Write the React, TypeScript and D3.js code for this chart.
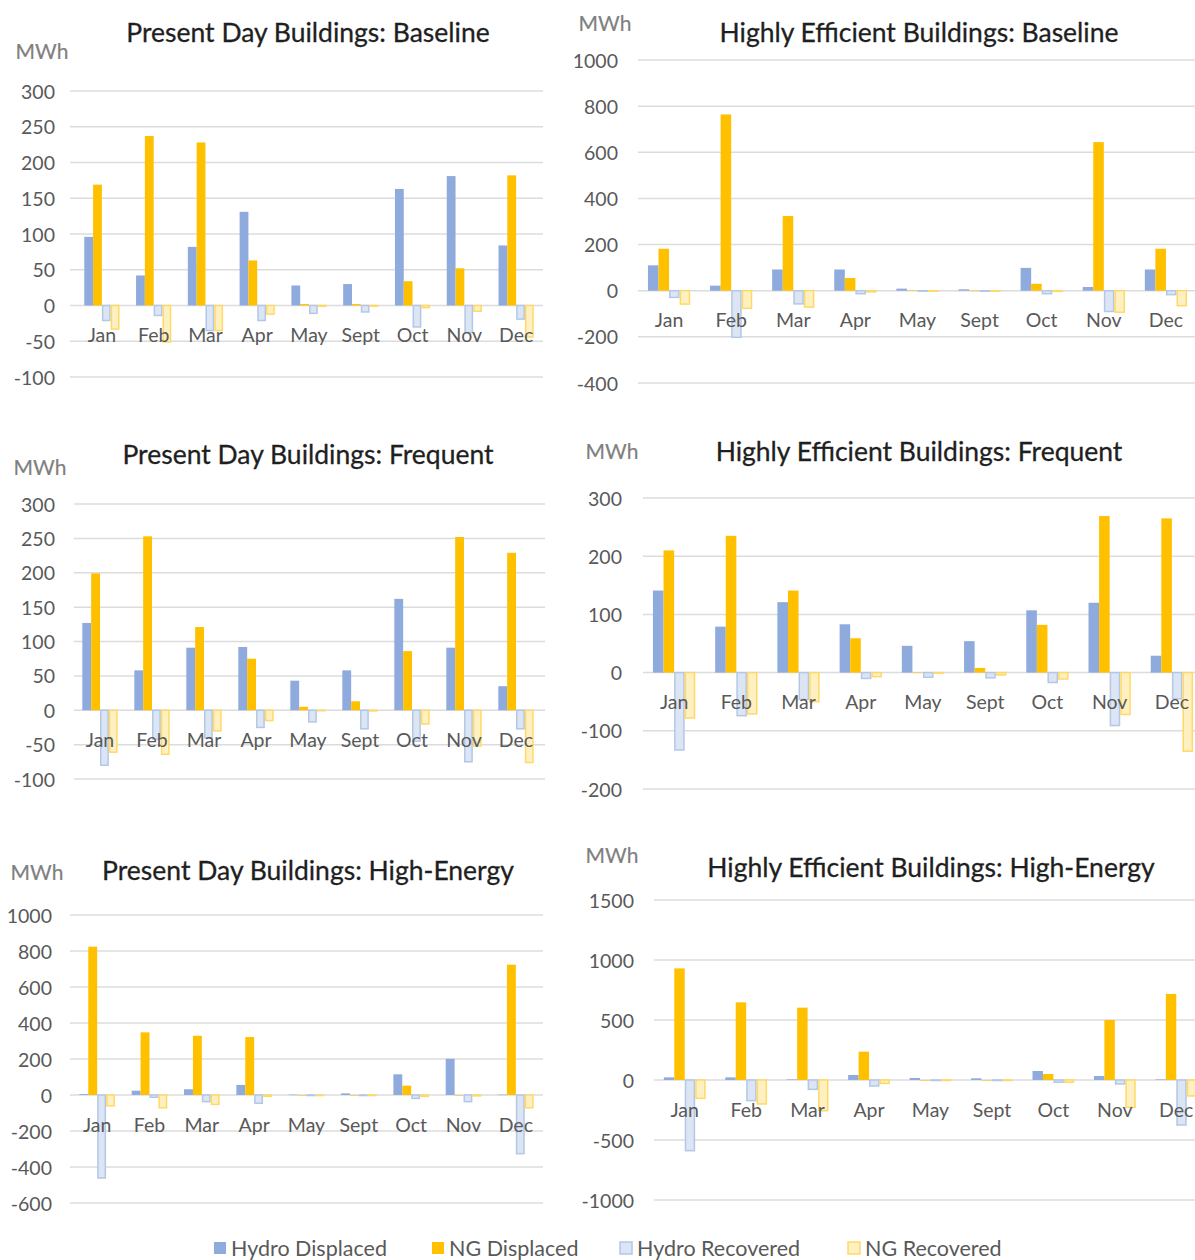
import React from "react";
import * as d3 from "d3";

// Month categories shared by every panel
const months = ["Jan", "Feb", "Mar", "Apr", "May", "Sept", "Oct", "Nov", "Dec"];

const seriesNames = ["Hydro Displaced", "NG Displaced", "Hydro Recovered", "NG Recovered"];

// Present Day Buildings: Baseline (MWh)
const pdBaseHydroDisp = [96, 42, 82, 131, 28, 30, 163, 181, 84];
const pdBaseNgDisp = [169, 237, 228, 63, 2, 2, 34, 52, 182];
const pdBaseHydroRec = [-21, -14, -35, -21, -11, -9, -30, -38, -19];
const pdBaseNgRec = [-33, -51, -35, -12, -1, -1, -3, -8, -44];

// Highly Efficient Buildings: Baseline (MWh)
const heBaseHydroDisp = [110, 22, 92, 92, 9, 6, 99, 16, 92];
const heBaseNgDisp = [182, 764, 324, 55, 2, 0, 30, 644, 182];
const heBaseHydroRec = [-29, -202, -57, -13, -2, 0, -13, -90, -17];
const heBaseNgRec = [-58, -76, -71, -5, -2, 0, -3, -93, -65];

// Present Day Buildings: Frequent (MWh)
const pdFreqHydroDisp = [127, 58, 91, 92, 43, 58, 162, 91, 35];
const pdFreqNgDisp = [199, 253, 121, 75, 5, 13, 86, 252, 229];
const pdFreqHydroRec = [-80, -42, -40, -25, -17, -27, -45, -75, -27];
const pdFreqNgRec = [-61, -64, -30, -15, 0, -1, -20, -52, -76];

// Highly Efficient Buildings: Frequent (MWh)
const heFreqHydroDisp = [141, 79, 121, 83, 46, 54, 107, 120, 29];
const heFreqNgDisp = [210, 235, 141, 59, 0, 8, 82, 269, 265];
const heFreqHydroRec = [-133, -74, -46, -10, -8, -9, -17, -91, -45];
const heFreqNgRec = [-78, -71, -50, -7, 0, -4, -11, -72, -135];

// Present Day Buildings: High-Energy (MWh)
const pdHighHydroDisp = [5, 24, 32, 56, 2, 9, 115, 201, 2];
const pdHighNgDisp = [824, 348, 329, 322, 0, 0, 52, 0, 724];
const pdHighHydroRec = [-461, -13, -37, -46, -3, -3, -19, -37, -326];
const pdHighNgRec = [-60, -71, -52, -7, 0, -3, -8, -5, -71];

// Highly Efficient Buildings: High-Energy (MWh)
const heHighHydroDisp = [22, 22, 5, 42, 17, 14, 75, 33, 5];
const heHighNgDisp = [930, 647, 603, 236, 0, 0, 50, 500, 717];
const heHighHydroRec = [-589, -172, -78, -50, -3, 0, -19, -33, -375];
const heHighNgRec = [-153, -200, -256, -28, -3, 0, -19, -228, -133];

// Y-axis tick values per panel
const ticksPdBase = [300, 250, 200, 150, 100, 50, 0, -50, -100];
const ticksHeBase = [1000, 800, 600, 400, 200, 0, -200, -400];
const ticksPdFreq = [300, 250, 200, 150, 100, 50, 0, -50, -100];
const ticksHeFreq = [300, 200, 100, 0, -100, -200];
const ticksPdHigh = [1000, 800, 600, 400, 200, 0, -200, -400, -600];
const ticksHeHigh = [1500, 1000, 500, 0, -500, -1000];

const FILL = ["#8FAADC", "#FFC000", "#DCE5F4", "#FFF0C2"];
const STROKE = ["none", "none", "#B4C7E7", "#FFD966"];

const FONT = "Lato, 'Open Sans', sans-serif";

type PanelLayout = {
  title: string;
  titleX: number;
  titleY: number;
  unitX: number;
  unitY: number;
  labelRight: number;
  gridX0: number;
  gridX1: number;
  bandX0: number;
  bandX1: number;
  yTop: number;
  yBottom: number;
  ticks: number[];
  series: number[][];
};

const panels: PanelLayout[] = [
  {
    title: "Present Day Buildings: Baseline",
    titleX: 308, titleY: 32, unitX: 42, unitY: 50, labelRight: 55,
    gridX0: 70, gridX1: 543, bandX0: 76, bandX1: 542, yTop: 91, yBottom: 377,
    ticks: ticksPdBase,
    series: [pdBaseHydroDisp, pdBaseNgDisp, pdBaseHydroRec, pdBaseNgRec],
  },
  {
    title: "Highly Efficient Buildings: Baseline",
    titleX: 919, titleY: 32, unitX: 605, unitY: 22, labelRight: 618,
    gridX0: 638, gridX1: 1195, bandX0: 638, bandX1: 1197, yTop: 60, yBottom: 383,
    ticks: ticksHeBase,
    series: [heBaseHydroDisp, heBaseNgDisp, heBaseHydroRec, heBaseNgRec],
  },
  {
    title: "Present Day Buildings: Frequent",
    titleX: 308, titleY: 454, unitX: 40, unitY: 466, labelRight: 55,
    gridX0: 74, gridX1: 545, bandX0: 74, bandX1: 542, yTop: 504, yBottom: 779,
    ticks: ticksPdFreq,
    series: [pdFreqHydroDisp, pdFreqNgDisp, pdFreqHydroRec, pdFreqNgRec],
  },
  {
    title: "Highly Efficient Buildings: Frequent",
    titleX: 919, titleY: 451, unitX: 612, unitY: 450, labelRight: 622,
    gridX0: 643, gridX1: 1195, bandX0: 643, bandX1: 1203, yTop: 498, yBottom: 789,
    ticks: ticksHeFreq,
    series: [heFreqHydroDisp, heFreqNgDisp, heFreqHydroRec, heFreqNgRec],
  },
  {
    title: "Present Day Buildings: High-Energy",
    titleX: 308, titleY: 870, unitX: 37, unitY: 871, labelRight: 52,
    gridX0: 70, gridX1: 543, bandX0: 71, bandX1: 542, yTop: 915, yBottom: 1203,
    ticks: ticksPdHigh,
    series: [pdHighHydroDisp, pdHighNgDisp, pdHighHydroRec, pdHighNgRec],
  },
  {
    title: "Highly Efficient Buildings: High-Energy",
    titleX: 931, titleY: 867, unitX: 612, unitY: 854, labelRight: 634,
    gridX0: 654, gridX1: 1195, bandX0: 654, bandX1: 1207, yTop: 900, yBottom: 1200,
    ticks: ticksHeHigh,
    series: [heHighHydroDisp, heHighNgDisp, heHighHydroRec, heHighNgRec],
  },
];

function Panel({ p }: { p: PanelLayout }) {
  const yMax = d3.max(p.ticks) as number;
  const yMin = d3.min(p.ticks) as number;
  const y = d3.scaleLinear().domain([yMin, yMax]).range([p.yBottom, p.yTop]);
  const x = d3.scaleBand<string>().domain(months).range([p.bandX0, p.bandX1]).paddingInner(0).paddingOuter(0);
  const band = x.bandwidth();
  const groupW = band * 0.68;
  const inner = d3.scaleBand<number>().domain([0, 1, 2, 3]).range([0, groupW]);
  const barW = inner.bandwidth();
  const zero = y(0);

  return (
    <g>
      <text x={p.titleX} y={p.titleY} textAnchor="middle" dominantBaseline="central"
        fontFamily={FONT} fontSize={26.5} fill="#1f1f1f" stroke="#1f1f1f" strokeWidth={0.3}>{p.title}</text>
      <text x={p.unitX} y={p.unitY} textAnchor="middle" dominantBaseline="central"
        fontFamily={FONT} fontSize={21} fill="#7f7f7f" stroke="#7f7f7f" strokeWidth={0.2}>MWh</text>
      {p.ticks.map((t) => (
        <g key={t}>
          <line x1={p.gridX0} x2={p.gridX1} y1={y(t)} y2={y(t)} stroke="#DCDCDC" strokeWidth={1.5} />
          <text x={p.labelRight} y={y(t)} textAnchor="end" dominantBaseline="central"
            fontFamily={FONT} fontSize={19.5} fill="#595959">{t}</text>
        </g>
      ))}
      {p.series.map((vals, si) =>
        vals.map((v, i) => {
          const x0 = (x(months[i]) as number) + (band - groupW) / 2 + (inner(si) as number);
          const top = Math.min(y(v), zero);
          const h = Math.abs(y(v) - zero);
          const outlined = STROKE[si] !== "none";
          return (
            <rect key={`${si}-${i}`}
              x={outlined ? x0 + 0.75 : x0}
              y={top}
              width={outlined ? barW - 1.5 : barW}
              height={Math.max(h, 0.5)}
              fill={FILL[si]}
              stroke={STROKE[si]}
              strokeWidth={outlined ? 1.5 : 0} />
          );
        })
      )}
      {months.map((m) => (
        <text key={m} x={(x(m) as number) + band / 2} y={zero + 29} textAnchor="middle"
          dominantBaseline="central" fontFamily={FONT} fontSize={19.5} fill="#595959">{m}</text>
      ))}
    </g>
  );
}

const legendX = [214, 432, 620, 848];

export default function App() {
  return (
    <svg width={1195} height={1260} viewBox="0 0 1195 1260"
      style={{ position: "absolute", left: 0, top: 0, display: "block", background: "#ffffff" }}>
      <rect x={0} y={0} width={1195} height={1260} fill="#ffffff" />
      {panels.map((p) => <Panel key={p.title} p={p} />)}
      {seriesNames.map((name, i) => (
        <g key={name}>
          <rect x={legendX[i]} y={1242} width={12} height={12} fill={FILL[i]}
            stroke={STROKE[i]} strokeWidth={STROKE[i] === "none" ? 0 : 1.5} />
          <text x={legendX[i] + 17} y={1248} dominantBaseline="central"
            fontFamily={FONT} fontSize={21.5} fill="#595959">{name}</text>
        </g>
      ))}
    </svg>
  );
}
